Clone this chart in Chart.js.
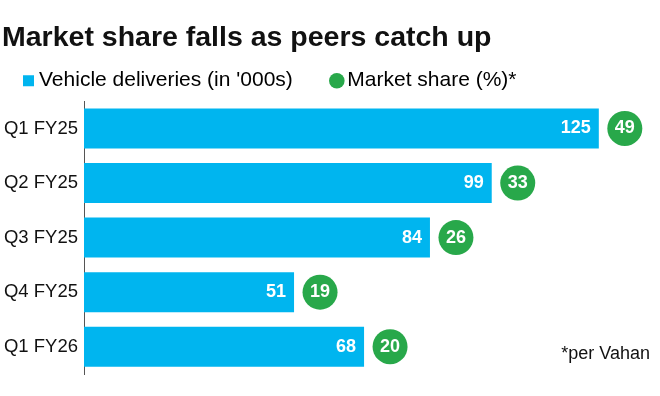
<!DOCTYPE html>
<html>
<head>
<meta charset="utf-8">
<script src="https://cdn.jsdelivr.net/npm/chart.js@4.4.1/dist/chart.umd.min.js"></script>
<style>
	body { margin: 0; background: #fff; }
	canvas { display: block; }
</style>
</head>
<body>
<canvas id="share-chart" width="660" height="396"></canvas>
<script>
var quarters = ["Q1 FY25", "Q2 FY25", "Q3 FY25", "Q4 FY25", "Q1 FY26"];
var deliveries = [125, 99, 84, 51, 68];
var marketShare = [49, 33, 26, 19, 20];

var BLUE = "#00b5ef";
var GREEN = "#28a84a";
var FONT = "'Liberation Sans', Arial, sans-serif";

// numbers on the bars + green share bubbles + footnote
var barExtras = {
	id: "barExtras",
	afterDatasetsDraw: function(chart) {
		var ctx = chart.ctx;
		var bars = chart.getDatasetMeta(0).data;
		ctx.save();
		ctx.font = "bold 18px " + FONT;
		ctx.textBaseline = "middle";
		for (var i = 0; i < bars.length; i++) {
			var bar = bars[i];
			ctx.fillStyle = "#fff";
			ctx.textAlign = "right";
			ctx.fillText(deliveries[i], bar.x - 8, bar.y);

			var cx = bar.x + 26;
			ctx.beginPath();
			ctx.arc(cx, bar.y, 17.5, 0, Math.PI * 2);
			ctx.fillStyle = GREEN;
			ctx.fill();
			ctx.fillStyle = "#fff";
			ctx.textAlign = "center";
			ctx.fillText(marketShare[i], cx, bar.y);
		}
		ctx.font = "18px " + FONT;
		ctx.fillStyle = "#111";
		ctx.textAlign = "right";
		ctx.textBaseline = "alphabetic";
		ctx.fillText("*per Vahan", chart.width - 10, chart.chartArea.bottom - 15);
		ctx.restore();
	}
};

var chartdata = {
	labels: quarters,
	datasets: [
		{
			label: "Vehicle deliveries (in '000s)",
			backgroundColor: BLUE,
			borderWidth: 0,
			barPercentage: 0.733,
			categoryPercentage: 1,
			data: deliveries
		}
	]
};

var ctx = document.getElementById("share-chart");

var barGraph = new Chart(ctx, {
	type: "bar",
	data: chartdata,
	plugins: [barExtras],
	options: {
		indexAxis: "y",
		responsive: false,
		animation: false,
		layout: { padding: { top: 0, left: 2, right: 20, bottom: 22 } },
		scales: {
			x: { display: false, min: 0, max: 135 },
			y: {
				grid: { display: false, drawTicks: false },
				border: { display: true, color: "#555", width: 1 },
				ticks: { color: "#111", padding: 6, font: { family: FONT, size: 18.5 } },
				afterFit: function(scale) { scale.width = 82; }
			}
		},
		plugins: {
			tooltip: { enabled: false },
			title: {
				display: true,
				text: "Market share falls as peers catch up",
				align: "start",
				color: "#111",
				font: { family: FONT, size: 28.5, weight: "bold", lineHeight: 1 },
				padding: { top: 24, bottom: -8.8 }
			},
			legend: {
				display: true,
				align: "start",
				labels: {
					usePointStyle: true,
					boxWidth: 0.01,
					boxHeight: 11,
					padding: 26.5,
					color: "#111",
					font: { family: FONT, size: 21 },
					generateLabels: function() {
						return [
							{ text: "Vehicle deliveries (in '000s)   ", fillStyle: BLUE, strokeStyle: BLUE, lineWidth: 0, pointStyle: "rect", datasetIndex: 0 },
							{ text: "Market share (%)*", fillStyle: GREEN, strokeStyle: GREEN, lineWidth: 0, pointStyle: "circle" }
						];
					}
				}
			}
		}
	}
});
</script>
</body>
</html>
